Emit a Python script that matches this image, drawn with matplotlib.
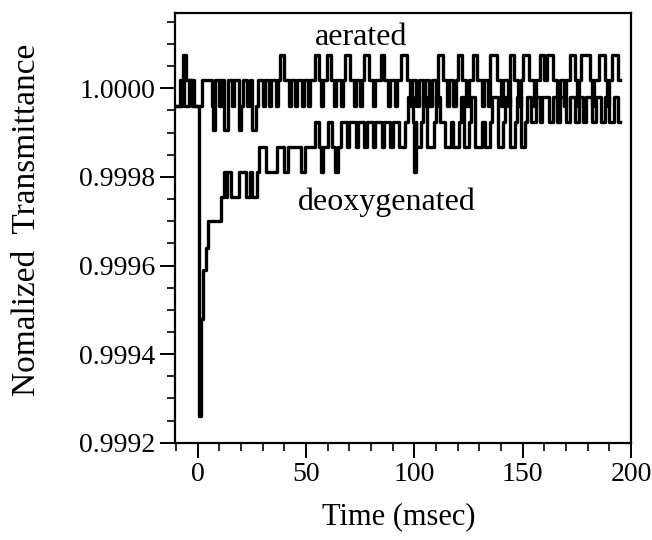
import matplotlib
matplotlib.use("Agg")
import matplotlib.pyplot as plt
from matplotlib.ticker import MultipleLocator, FormatStrFormatter

plt.rcParams['font.family'] = ['Liberation Serif', 'DejaVu Serif']

# ===================================== Data (step traces, value holds until next time)
# aerated sample
aer_t = [-10, -7, -6.5, -5.5, -2.5, 2, 6.5, 7, 8, 10, 11, 12, 14, 16, 17, 19, 20, 21,
         23, 24, 25, 27, 28, 30, 31, 33, 34, 36, 37, 38, 40, 42, 43, 45, 46, 48, 49,
         51, 52, 54, 56, 57, 58, 59.5, 61.5, 63, 64, 66, 67, 68, 70.5, 72, 73, 75,
         76, 77, 79, 81, 82, 84.5, 86, 88, 89, 91, 92, 94, 96.5, 98, 99, 101, 102,
         104, 105, 107, 108, 110, 111, 113, 115, 116, 118, 119, 120, 122, 124, 125,
         127, 129, 131, 132, 134, 135, 138, 140, 141, 143, 144, 146, 148, 149, 150,
         153, 155, 156, 158, 160, 161, 164, 166, 167, 169, 170, 172, 174, 175, 176,
         177, 181, 182, 183, 185, 188, 189, 190, 191, 194, 195]
aer_v = [0.99996, 1.000018, 1.000075, 1.000018, 0.99996, 1.000018, 0.99996, 0.999905,
         1.000018, 0.99996, 1.000018, 0.999905, 1.000018, 0.99996, 1.000018, 0.999905,
         0.99996, 1.000018, 0.99996, 1.000018, 0.999905, 0.99996, 1.000018, 0.99996,
         1.000018, 0.99996, 1.000018, 0.99996, 1.000018, 1.000075, 1.000018, 0.99996,
         1.000018, 0.99996, 1.000018, 0.99996, 1.000018, 0.99996, 1.000018, 1.000075,
         1.000018, 0.99996, 1.000018, 1.000075, 1.000018, 0.99996, 1.000018, 0.99996,
         1.000018, 1.000075, 1.000018, 0.99996, 1.000018, 0.99996, 1.000018, 1.000075,
         1.000018, 0.99996, 1.000018, 1.000075, 1.000018, 0.99996, 1.000018, 0.99996,
         1.000018, 1.000075, 1.000018, 0.99996, 1.000018, 0.99996, 1.000018, 0.99996,
         1.000018, 0.99996, 1.000018, 0.99996, 1.000075, 1.000018, 0.99996, 1.000018,
         0.99996, 1.000018, 1.000075, 1.000018, 0.99996, 1.000018, 1.000075, 1.000018,
         0.99996, 1.000018, 0.99996, 1.000075, 1.000018, 0.99996, 1.000018, 0.99996,
         1.000075, 1.000018, 0.99996, 1.000018, 1.000075, 1.000018, 0.99996, 1.000018,
         1.000075, 1.000018, 1.000075, 1.000018, 0.99996, 1.000018, 0.99996, 1.000018,
         1.000075, 1.000018, 0.99996, 1.000018, 1.000075, 1.000018, 0.99996, 1.000018,
         1.000075, 1.000018, 0.99996, 1.000018, 1.000075, 1.000018, 1.000018]

# deoxygenated sample
deox_t = [-10, -8, -6, -4, -1.5, 0.5, 1.6, 2.6, 4, 5, 10.9, 12.4, 13, 13.5, 15.5, 19.3,
          22.3, 24, 25, 27.6, 28.3, 31.4, 36.7, 39.7, 41.6, 47.6, 49.8, 54, 56, 57,
          58, 60, 62, 63.5, 65, 66, 69, 70, 73, 74, 77, 78, 81, 82, 85, 86, 89, 90,
          93, 95.7, 97, 99.5, 100, 100.7, 101, 103, 104, 106, 109, 110, 112, 114, 117,
          118, 120.6, 121.5, 123, 125, 126, 128, 131, 132.7, 135, 136, 138.8, 141,
          142, 144, 146.5, 147.5, 149, 151, 152, 154, 156, 158, 159, 162, 164, 166,
          167, 170, 172, 174, 176, 178, 179, 182, 184, 186, 188, 190, 192, 194, 195]
deox_v = [0.99996, 1.000018, 0.99996, 1.000018, 0.99996, 0.99926, 0.99948, 0.99959,
          0.99964, 0.99970, 0.999755, 0.999811, 0.999755, 0.999811, 0.999755, 0.999811,
          0.999755, 0.999811, 0.999755, 0.999811, 0.999867, 0.999811, 0.999867,
          0.999811, 0.999867, 0.999811, 0.999867, 0.999923, 0.999867, 0.999811,
          0.999867, 0.999923, 0.999867, 0.999811, 0.999867, 0.999923, 0.999867,
          0.999923, 0.999867, 0.999923, 0.999867, 0.999923, 0.999867, 0.999923,
          0.999867, 0.999923, 0.999867, 0.999923, 0.999867, 0.999923, 0.99998,
          0.999923, 0.999811, 0.999923, 0.999867, 0.999923, 0.99998, 0.999867,
          0.999923, 0.99998, 0.999923, 0.999867, 0.999923, 0.999867, 0.999923,
          0.99998, 0.999867, 0.999923, 0.99998, 0.999867, 0.999923, 0.999867,
          0.999923, 0.99998, 0.999867, 0.999923, 0.99998, 0.999867, 0.999923,
          0.99998, 0.999867, 0.999923, 0.99998, 0.999923, 0.99998, 0.999923, 0.99998,
          0.999923, 0.99998, 0.999923, 0.99998, 0.999923, 0.99998, 0.999923, 0.99998,
          0.999923, 0.99998, 0.999923, 0.99998, 0.999923, 0.99998, 0.999923, 0.99998,
          0.999923, 0.999923]

x_ticks = [0, 50, 100, 150, 200]
y_ticks = [0.9992, 0.9994, 0.9996, 0.9998, 1.0000]

# ===================================== Plot
fig = plt.figure(figsize=(6.52, 5.4), dpi=100)
ax = fig.add_axes([0.268, 0.180, 0.700, 0.796])

ax.plot(aer_t, aer_v, drawstyle='steps-post', color='black', lw=2.4)
ax.plot(deox_t, deox_v, drawstyle='steps-post', color='black', lw=2.4)

ax.text(54, 1.0000968, 'aerated', fontsize=23)
ax.text(46.4, 0.999725, 'deoxygenated', fontsize=23)

ax.set_xlim(-10.5, 200)
ax.set_ylim(0.9992, 1.00017)
ax.set_xticks(x_ticks)
ax.set_yticks(y_ticks)
ax.xaxis.set_minor_locator(MultipleLocator(10))
ax.yaxis.set_minor_locator(MultipleLocator(0.00005))
ax.yaxis.set_major_formatter(FormatStrFormatter('%.4f'))

ax.tick_params(which='major', direction='out', length=11, width=1.4, labelsize=20, pad=3)
ax.tick_params(which='minor', direction='out', length=6, width=1.2)
for s in ax.spines.values():
    s.set_linewidth(1.6)

ax.set_xlabel('Time (msec)', fontsize=22)
ax.set_ylabel('Nomalized  Transmittance', fontsize=24)
ax.xaxis.set_label_coords(0.49, -0.172)
ax.xaxis.label.set_va('center')
ax.yaxis.set_label_coords(-0.325, 0.519)
ax.yaxis.label.set_va('center')

plt.savefig("out.png", dpi=100)
